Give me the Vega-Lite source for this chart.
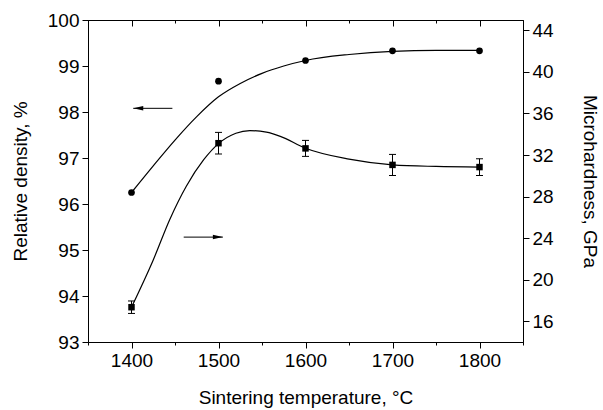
{
  "$schema": "https://vega.github.io/schema/vega-lite/v6.json",
  "width": 435,
  "height": 322,
  "autosize": "none",
  "padding": {"left": 88, "top": 20, "right": 80, "bottom": 68},
  "background": "white",
  "view": {"stroke": "black", "strokeWidth": 1},
  "config": {
    "font": "Liberation Sans",
    "axis": {
      "grid": false,
      "ticks": true,
      "domainColor": "black",
      "tickColor": "black",
      "labelColor": "black",
      "titleColor": "black",
      "labelFont": "Liberation Sans",
      "titleFont": "Liberation Sans",
      "labelFontSize": 19,
      "titleFontSize": 19,
      "titleFontWeight": "normal",
      "domainWidth": 1,
      "tickWidth": 1
    }
  },
  "resolve": {"scale": {"y": "independent"}, "axis": {"x": "independent", "y": "independent"}},
  "layer": [
    {
      "layer": [
        {
          "data": {"values": [
            {"t": 1400, "v": 96.25}, {"t": 1425, "v": 96.83}, {"t": 1450, "v": 97.39},
            {"t": 1475, "v": 97.9}, {"t": 1500, "v": 98.33}, {"t": 1525, "v": 98.62},
            {"t": 1550, "v": 98.84}, {"t": 1575, "v": 99.0}, {"t": 1600, "v": 99.12},
            {"t": 1650, "v": 99.25}, {"t": 1700, "v": 99.32}, {"t": 1750, "v": 99.34},
            {"t": 1800, "v": 99.34}
          ]},
          "mark": {"type": "line", "color": "black", "strokeWidth": 1.2, "interpolate": "monotone"},
          "encoding": {
            "x": {
              "field": "t", "type": "quantitative",
              "scale": {"domain": [1350, 1850], "nice": false, "zero": false},
              "axis": {
                "title": "Sintering temperature, °C",
                "orient": "bottom",
                "values": [1350, 1400, 1450, 1500, 1550, 1600, 1650, 1700, 1750, 1800, 1850],
                "labelExpr": "datum.value % 100 === 0 && datum.value > 1350 && datum.value < 1850 ? datum.label : ''",
                "format": "d",
                "tickSize": 6,
                "tickDash": {"condition": {"test": "datum.value % 100 === 0", "value": []}, "value": [3, 20]},
                "labelPadding": 3,
                "titlePadding": 18,
                "labelFlush": false
              }
            },
            "y": {
              "field": "v", "type": "quantitative",
              "scale": {"domain": [93, 100], "nice": false, "zero": false},
              "axis": {
                "title": "Relative density, %",
                "orient": "left",
                "values": [93, 93.5, 94, 94.5, 95, 95.5, 96, 96.5, 97, 97.5, 98, 98.5, 99, 99.5, 100],
                "labelExpr": "datum.value % 1 === 0 ? datum.label : ''",
                "tickSize": 6,
                "tickDash": {"condition": {"test": "datum.value % 1 === 0", "value": []}, "value": [3, 20]},
                "labelPadding": 3,
                "titlePadding": 17,
                "labelFlush": false
              }
            }
          }
        },
        {
          "data": {"values": [
            {"t": 1400, "v": 96.25}, {"t": 1500, "v": 98.67}, {"t": 1600, "v": 99.12},
            {"t": 1700, "v": 99.33}, {"t": 1800, "v": 99.33}
          ]},
          "mark": {"type": "point", "shape": "circle", "filled": true, "color": "black", "size": 45, "opacity": 1},
          "encoding": {
            "x": {"field": "t", "type": "quantitative"},
            "y": {"field": "v", "type": "quantitative"}
          }
        },
        {
          "data": {"values": [
            {"t": 1402, "t2": 1447, "v": 98.08},
            {"t": 1460, "t2": 1505, "v": 95.28}
          ]},
          "mark": {"type": "rule", "color": "black", "strokeWidth": 1},
          "encoding": {
            "x": {"field": "t", "type": "quantitative"},
            "x2": {"field": "t2"},
            "y": {"field": "v", "type": "quantitative"}
          }
        },
        {
          "data": {"values": [
            {"t": 1402, "v": 98.08}
          ]},
          "mark": {"type": "point", "shape": "M 0 0 L 2 -0.45 L 2 0.45 Z", "filled": true, "color": "black", "size": 100, "opacity": 1, "strokeWidth": 0},
          "encoding": {
            "x": {"field": "t", "type": "quantitative"},
            "y": {"field": "v", "type": "quantitative"}
          }
        },
        {
          "data": {"values": [
            {"t": 1505, "v": 95.28}
          ]},
          "mark": {"type": "point", "shape": "M 0 0 L -2 -0.45 L -2 0.45 Z", "filled": true, "color": "black", "size": 100, "opacity": 1, "strokeWidth": 0},
          "encoding": {
            "x": {"field": "t", "type": "quantitative"},
            "y": {"field": "v", "type": "quantitative"}
          }
        }
      ]
    },
    {
      "layer": [
        {
          "data": {"values": [
            {"t": 1400, "h": 17.35}, {"t": 1425, "h": 21.9}, {"t": 1444, "h": 25.8},
            {"t": 1463, "h": 29.0}, {"t": 1483, "h": 31.55}, {"t": 1500, "h": 33.1},
            {"t": 1520, "h": 34.1}, {"t": 1536, "h": 34.35}, {"t": 1555, "h": 34.2},
            {"t": 1571, "h": 33.8}, {"t": 1600, "h": 32.65}, {"t": 1650, "h": 31.6},
            {"t": 1700, "h": 31.05}, {"t": 1750, "h": 30.9}, {"t": 1800, "h": 30.84}
          ]},
          "mark": {"type": "line", "color": "black", "strokeWidth": 1.2, "interpolate": "monotone"},
          "encoding": {
            "x": {
              "field": "t", "type": "quantitative",
              "axis": {
                "orient": "top",
                "title": null,
                "labels": false,
                "values": [1400, 1450, 1500, 1550, 1600, 1650, 1700, 1750, 1800],
                "tickSize": -6,
                "tickDash": {"condition": {"test": "datum.value % 100 === 0", "value": []}, "value": [3, 20]}
              }
            },
            "y": {
              "field": "h", "type": "quantitative",
              "scale": {"domain": [14, 45], "nice": false, "zero": false},
              "axis": {
                "title": "Microhardness, GPa",
                "orient": "right",
                "values": [16, 18, 20, 22, 24, 26, 28, 30, 32, 34, 36, 38, 40, 42, 44],
                "labelExpr": "datum.value % 4 === 0 ? datum.label : ''",
                "tickSize": 6,
                "tickDash": {"condition": {"test": "datum.value % 4 === 0", "value": []}, "value": [3, 20]},
                "labelPadding": 3,
                "titlePadding": 26,
                "labelFlush": false
              }
            }
          }
        },
        {
          "data": {"values": [
            {"t": 1400, "h": 17.35, "lo": 16.75, "hi": 17.95},
            {"t": 1500, "h": 33.14, "lo": 32.1, "hi": 34.18},
            {"t": 1600, "h": 32.64, "lo": 31.87, "hi": 33.41},
            {"t": 1700, "h": 31.05, "lo": 30.03, "hi": 32.06},
            {"t": 1800, "h": 30.84, "lo": 30.03, "hi": 31.64}
          ]},
          "layer": [
            {
              "mark": {"type": "rule", "color": "black", "strokeWidth": 1},
              "encoding": {
                "x": {"field": "t", "type": "quantitative"},
                "y": {"field": "lo", "type": "quantitative"},
                "y2": {"field": "hi"}
              }
            },
            {
              "mark": {"type": "tick", "orient": "horizontal", "color": "black", "size": 7, "thickness": 1, "opacity": 1},
              "encoding": {
                "x": {"field": "t", "type": "quantitative"},
                "y": {"field": "lo", "type": "quantitative"}
              }
            },
            {
              "mark": {"type": "tick", "orient": "horizontal", "color": "black", "size": 7, "thickness": 1, "opacity": 1},
              "encoding": {
                "x": {"field": "t", "type": "quantitative"},
                "y": {"field": "hi", "type": "quantitative"}
              }
            },
            {
              "mark": {"type": "point", "shape": "square", "filled": true, "color": "black", "size": 42, "opacity": 1},
              "encoding": {
                "x": {"field": "t", "type": "quantitative"},
                "y": {"field": "h", "type": "quantitative"}
              }
            }
          ]
        }
      ]
    }
  ]
}
